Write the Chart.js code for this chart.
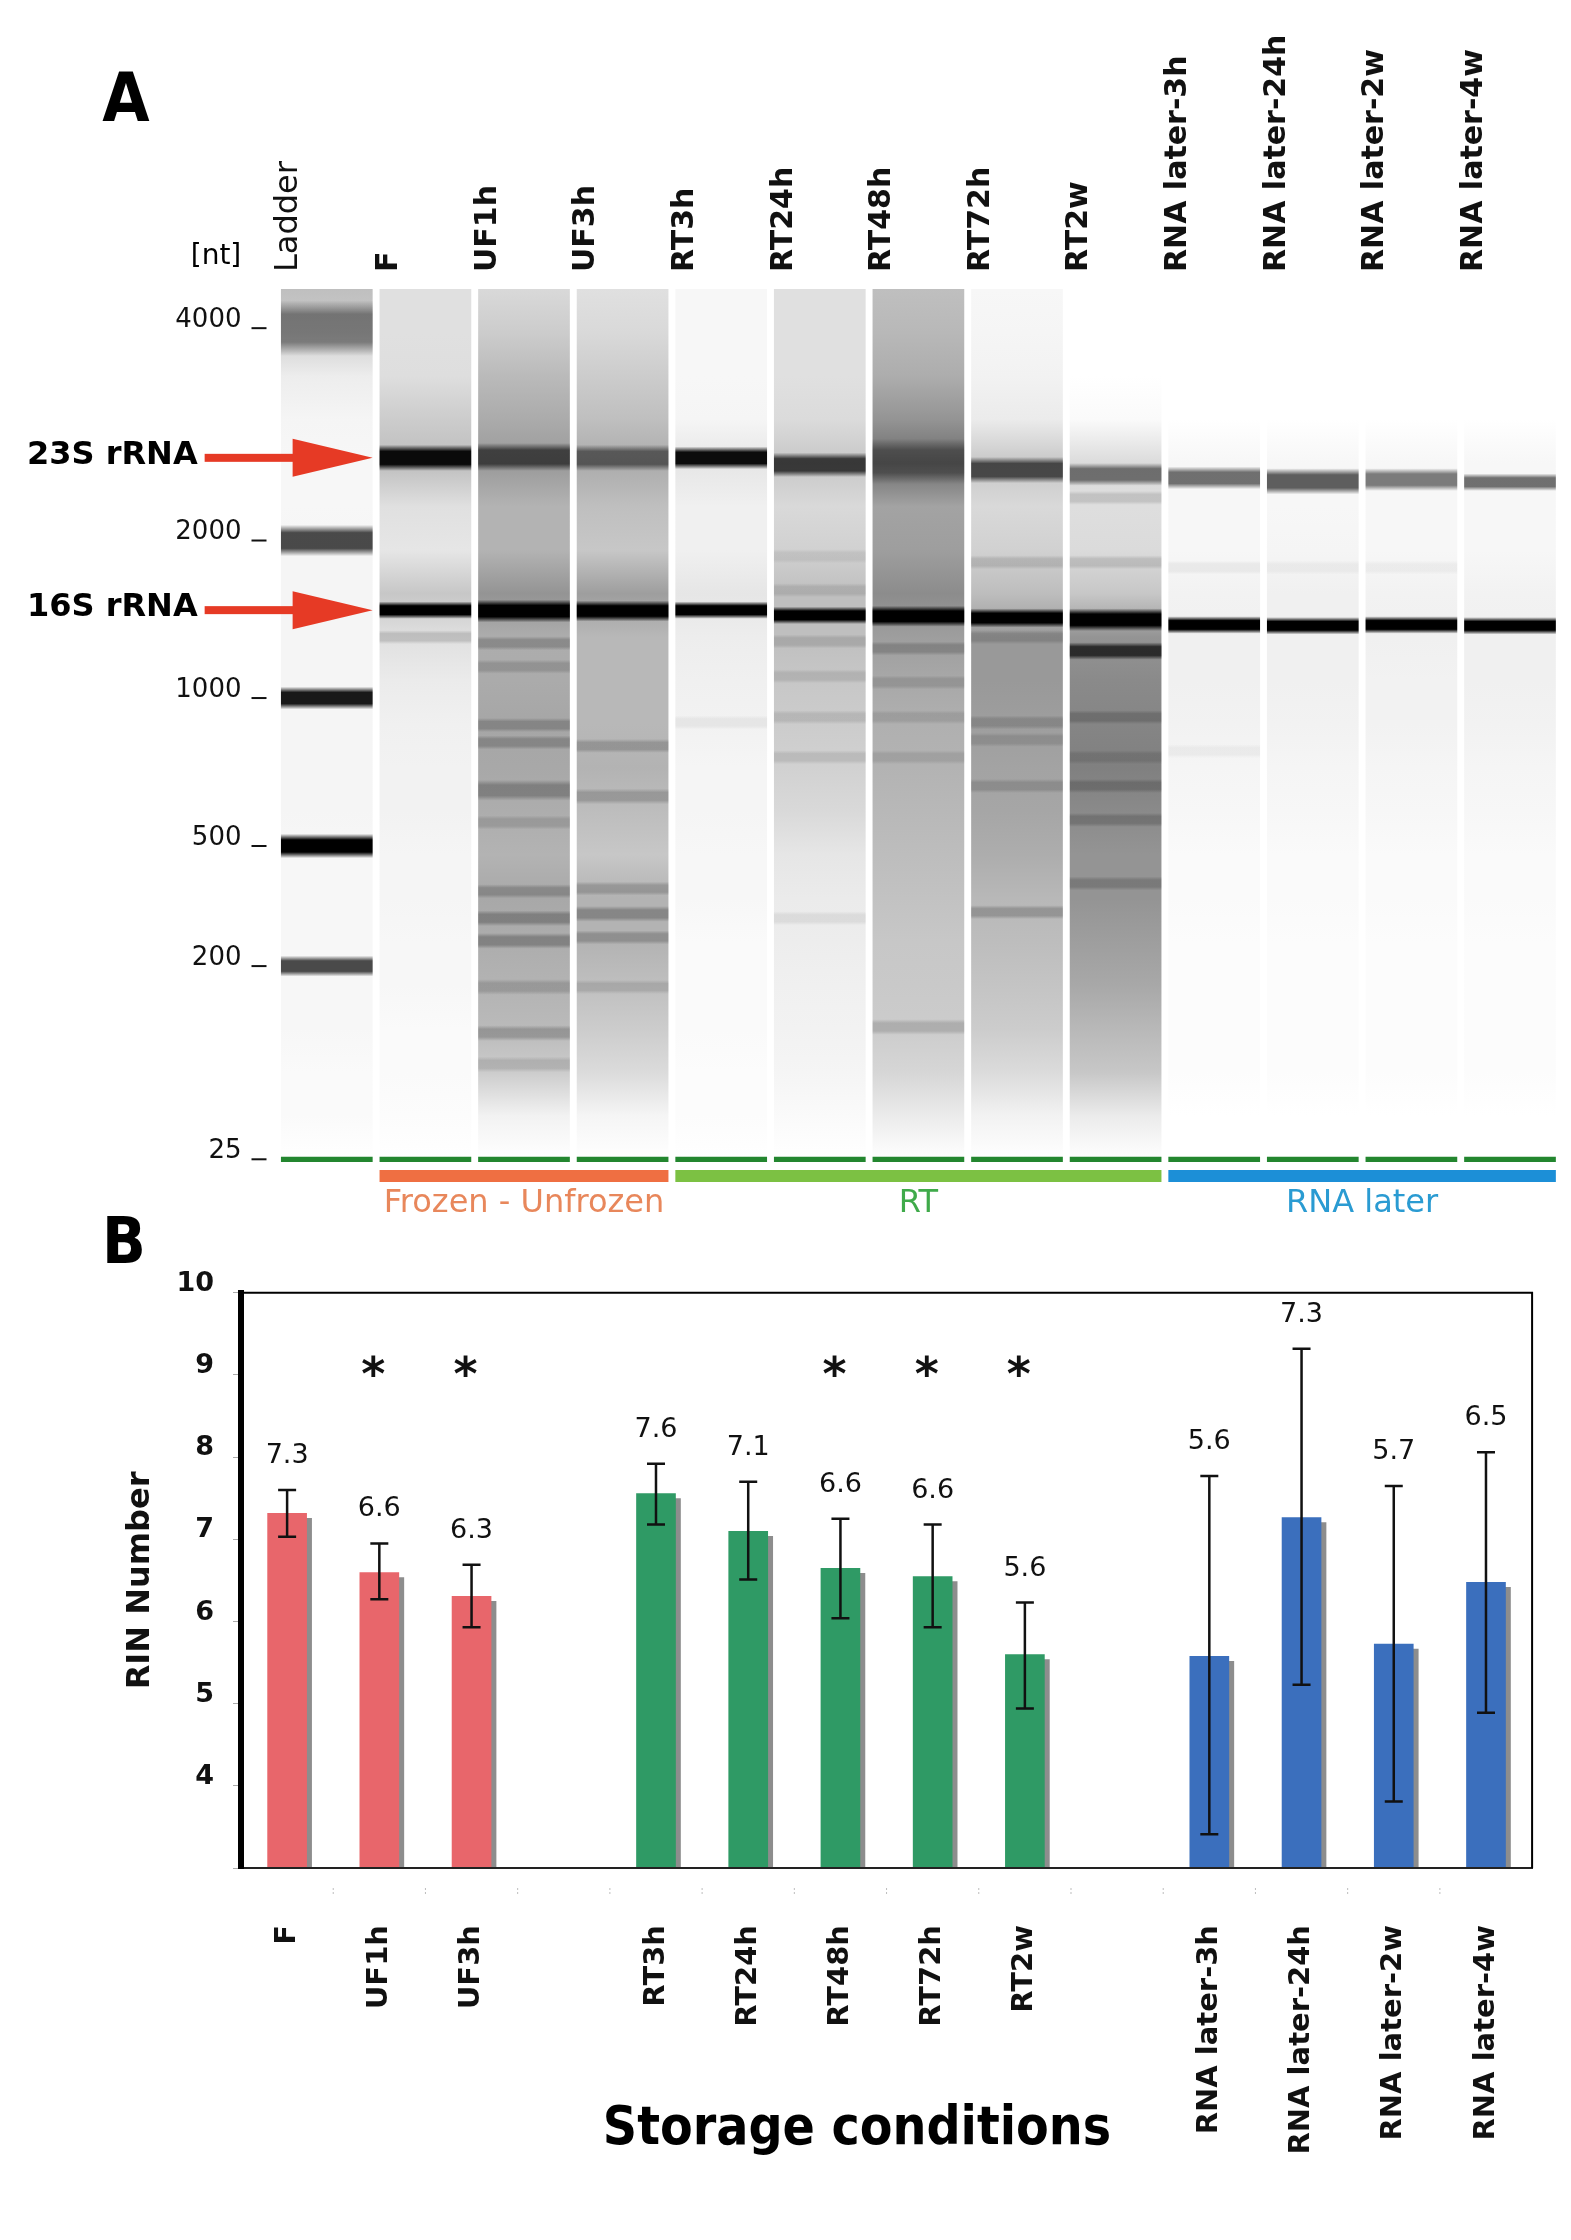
<!DOCTYPE html>
<html>
<head>
<meta charset="utf-8">
<title>RNA integrity under different storage conditions</title>
<script src="https://cdn.jsdelivr.net/npm/chart.js@4.4.1/dist/chart.umd.min.js"></script>
<style>
  html, body { margin: 0; padding: 0; background: #fff; }
  #wrap { width: 1571px; height: 2240px; position: relative; }
  canvas { display: block; position: absolute; left: 0; }
  #gelChart { top: 0; }
  #rinChart { top: 1180px; }
</style>
</head>
<body>
<div id="wrap">
  <canvas id="gelChart" width="1571" height="1230"></canvas>
  <canvas id="rinChart" width="1571" height="1060"></canvas>
</div>
<script>
// ---------- Panel A: virtual gel ----------
const laneLabels = ['Ladder', 'F', 'UF1h', 'UF3h', 'RT3h', 'RT24h', 'RT48h', 'RT72h', 'RT2w',
  'RNA later-3h', 'RNA later-24h', 'RNA later-2w', 'RNA later-4w'];

// ladder sizes and how far they ran (% of the run, 25 nt marker = 100)
const ladderNt = [4000, 2000, 1000, 500, 200, 25];
const ladderPos = [4.5, 28.9, 47.0, 64.0, 77.8, 100];
const markerPos = 100;

// background smear of each lane, darkness 0..1 read at these run positions
const smearStops = [0, 5, 10, 15, 20, 25, 30, 35, 40, 45, 50, 55, 60, 65, 70, 75, 80, 85, 90, 95, 100];
const smearLadder = [0.25, 0.2, 0.07, 0.04, 0.03, 0.03, 0.04, 0.04, 0.04, 0.04, 0.04, 0.04, 0.04, 0.03, 0.03, 0.03, 0.03, 0.03, 0.02, 0.02, 0];
const smearF      = [0.12, 0.12, 0.13, 0.2, 0.26, 0.12, 0.1, 0.22, 0.12, 0.08, 0.06, 0.05, 0.05, 0.04, 0.04, 0.03, 0.03, 0.02, 0.02, 0.01, 0];
const smearUF1h   = [0.15, 0.2, 0.27, 0.33, 0.4, 0.3, 0.3, 0.42, 0.32, 0.33, 0.35, 0.34, 0.32, 0.3, 0.34, 0.32, 0.3, 0.27, 0.2, 0.05, 0];
const smearUF3h   = [0.12, 0.15, 0.2, 0.25, 0.33, 0.25, 0.22, 0.38, 0.28, 0.28, 0.28, 0.3, 0.26, 0.22, 0.3, 0.3, 0.25, 0.2, 0.14, 0.04, 0];
const smearRT3h   = [0.03, 0.03, 0.03, 0.04, 0.1, 0.06, 0.06, 0.1, 0.07, 0.06, 0.05, 0.04, 0.04, 0.03, 0.03, 0.02, 0.02, 0.02, 0.01, 0.01, 0];
const smearRT24h  = [0.12, 0.12, 0.12, 0.14, 0.22, 0.15, 0.18, 0.25, 0.25, 0.22, 0.2, 0.18, 0.15, 0.1, 0.08, 0.07, 0.06, 0.05, 0.04, 0.02, 0];
const smearRT48h  = [0.25, 0.28, 0.32, 0.42, 0.58, 0.36, 0.38, 0.45, 0.38, 0.34, 0.31, 0.3, 0.28, 0.26, 0.24, 0.22, 0.21, 0.2, 0.16, 0.08, 0];
const smearRT72h  = [0.03, 0.04, 0.05, 0.08, 0.22, 0.15, 0.18, 0.26, 0.4, 0.4, 0.38, 0.36, 0.35, 0.32, 0.28, 0.26, 0.23, 0.2, 0.14, 0.05, 0];
const smearRT2w   = [0, 0, 0, 0.02, 0.14, 0.13, 0.14, 0.22, 0.42, 0.46, 0.48, 0.5, 0.46, 0.42, 0.42, 0.38, 0.34, 0.28, 0.22, 0.08, 0];
const smearRNA3h  = [0, 0, 0, 0, 0.03, 0.03, 0.03, 0.05, 0.06, 0.06, 0.05, 0.04, 0.03, 0.02, 0.02, 0.01, 0.01, 0.01, 0.01, 0, 0];
const smearRNA24h = [0, 0, 0, 0, 0.03, 0.03, 0.04, 0.06, 0.06, 0.06, 0.05, 0.04, 0.03, 0.02, 0.02, 0.01, 0.01, 0.01, 0.01, 0, 0];
const smearRNA2w  = [0, 0, 0, 0, 0.03, 0.03, 0.03, 0.05, 0.06, 0.05, 0.05, 0.04, 0.03, 0.02, 0.02, 0.01, 0.01, 0.01, 0.01, 0, 0];
const smearRNA4w  = [0, 0, 0, 0, 0.03, 0.03, 0.03, 0.05, 0.06, 0.06, 0.05, 0.04, 0.03, 0.02, 0.02, 0.01, 0.01, 0.01, 0.01, 0, 0];

// bands per lane: [run position, half width, darkness]
const bandsLadder = [[4.5, 3.2, 0.42], [28.9, 1.8, 0.7], [47.0, 1.3, 0.9], [64.0, 1.4, 1.0], [77.8, 1.2, 0.7]];
const bandsF      = [[19.4, 1.5, 0.95], [36.9, 1.0, 1.0], [40.0, 0.8, 0.15]];
const bandsUF1h   = [[19.3, 1.6, 0.6], [37.0, 1.3, 1.0], [40.7, 0.8, 0.2], [43.4, 0.8, 0.15], [50.1, 0.8, 0.2], [52.1, 0.8, 0.2],
  [57.6, 1.2, 0.25], [61.3, 0.8, 0.12], [69.2, 0.8, 0.2], [72.3, 0.9, 0.25], [74.9, 0.9, 0.25], [80.2, 0.9, 0.15], [85.5, 0.9, 0.2], [89.1, 0.9, 0.12]];
const bandsUF3h   = [[19.4, 1.5, 0.5], [37.0, 1.2, 1.0], [52.5, 0.8, 0.18], [58.3, 0.9, 0.18], [68.9, 0.8, 0.18], [71.8, 0.9, 0.25], [74.5, 0.8, 0.2], [80.2, 0.8, 0.12]];
const bandsRT3h   = [[19.4, 1.3, 0.95], [36.9, 1.0, 1.0], [49.8, 0.8, 0.05]];
const bandsRT24h  = [[20.2, 1.4, 0.72], [37.5, 1.0, 1.0], [30.7, 0.8, 0.07], [34.6, 0.8, 0.1], [40.5, 0.8, 0.12], [44.5, 0.8, 0.1], [49.2, 0.8, 0.1], [53.8, 0.8, 0.1], [72.3, 0.8, 0.07]];
const bandsRT48h  = [[19.8, 2.6, 0.35], [37.6, 1.2, 1.0], [41.3, 0.8, 0.18], [45.2, 0.8, 0.12], [49.2, 0.8, 0.1], [53.8, 0.8, 0.1], [84.8, 0.9, 0.15]];
const bandsRT72h  = [[20.8, 1.5, 0.65], [37.8, 1.1, 1.0], [31.4, 0.8, 0.12], [40.0, 0.8, 0.15], [49.8, 0.8, 0.15], [51.8, 0.8, 0.12], [57.1, 0.8, 0.15], [71.6, 0.8, 0.2]];
const bandsRT2w   = [[21.3, 1.3, 0.5], [24.0, 0.8, 0.12], [31.4, 0.8, 0.12], [38.0, 1.3, 1.0], [41.6, 1.0, 0.7], [49.2, 0.8, 0.18],
  [53.8, 0.8, 0.12], [57.1, 0.8, 0.18], [61.0, 0.8, 0.18], [68.3, 0.8, 0.18]];
const bandsRNA3h  = [[21.7, 1.3, 0.55], [32.0, 0.8, 0.05], [38.6, 1.0, 1.0], [53.1, 0.8, 0.04]];
const bandsRNA24h = [[22.1, 1.5, 0.62], [38.7, 1.0, 1.0], [32.0, 0.8, 0.04]];
const bandsRNA2w  = [[21.9, 1.3, 0.5], [38.6, 1.0, 1.0], [32.0, 0.8, 0.04]];
const bandsRNA4w  = [[22.2, 1.0, 0.55], [38.7, 1.0, 1.0]];

const rrnaNames = ['23S rRNA', '16S rRNA'];
const rrnaPos = [19.4, 36.9];

const groupNames = ['Frozen - Unfrozen', 'RT', 'RNA later'];
const groupFirstLane = [1, 4, 9];
const groupLastLane = [3, 8, 12];

// ---------- Panel B: RIN values ----------
const conditions = ['F', 'UF1h', 'UF3h', '', 'RT3h', 'RT24h', 'RT48h', 'RT72h', 'RT2w', '',
  'RNA later-3h', 'RNA later-24h', 'RNA later-2w', 'RNA later-4w'];
const conditionGroup = [0, 0, 0, null, 1, 1, 1, 1, 1, null, 2, 2, 2, 2];
const rinMean = [7.32, 6.6, 6.31, null, 7.56, 7.1, 6.65, 6.55, 5.6, null, 5.58, 7.27, 5.73, 6.48];
const rinLabel = ['7.3', '6.6', '6.3', null, '7.6', '7.1', '6.6', '6.6', '5.6', null, '5.6', '7.3', '5.7', '6.5'];
const rinLow = [7.03, 6.27, 5.93, null, 7.18, 6.51, 6.04, 5.93, 4.94, null, 3.41, 5.23, 3.81, 4.89];
const rinHigh = [7.6, 6.95, 6.69, null, 7.92, 7.7, 7.25, 7.18, 6.23, null, 7.77, 9.32, 7.65, 8.06];
const significant = [false, true, true, false, false, false, true, true, true, false, false, false, false, false];

// ---------- styles ----------
const FONT = "'DejaVu Sans', Verdana, sans-serif";
const NARROW = "'Liberation Sans Narrow', 'DejaVu Sans Condensed', 'DejaVu Sans', sans-serif";
const LANE_FRACTION = 0.93;
const groupBarColors = ['#ef6f42', '#7cc143', '#1c8fd7'];
const groupTextColors = ['#e8875b', '#3faa4a', '#2a9bd2'];
const barColors = ['#e8666b', '#2f9a65', '#3b6fbd'];
const markerColor = '#23862f';
const starLevel = 9.15;

Chart.defaults.font.family = FONT;
Chart.defaults.color = '#111';

const laneSmears = [smearLadder, smearF, smearUF1h, smearUF3h, smearRT3h, smearRT24h, smearRT48h, smearRT72h, smearRT2w,
  smearRNA3h, smearRNA24h, smearRNA2w, smearRNA4w];
const laneBands = [bandsLadder, bandsF, bandsUF1h, bandsUF3h, bandsRT3h, bandsRT24h, bandsRT48h, bandsRT72h, bandsRT2w,
  bandsRNA3h, bandsRNA24h, bandsRNA2w, bandsRNA4w];

function gray(a) {
  const g = Math.round(255 * (1 - a));
  return 'rgb(' + g + ',' + g + ',' + g + ')';
}

// smear of one lane as a vertical gradient placed through the y scale
function smearFill(context) {
  const chart = context.chart;
  const y = chart.scales.y;
  if (!chart.chartArea || !y) return '#eee';
  const profile = laneSmears[context.dataIndex];
  const first = smearStops[0], last = smearStops[smearStops.length - 1];
  const g = chart.ctx.createLinearGradient(0, y.getPixelForValue(first), 0, y.getPixelForValue(last));
  smearStops.forEach((s, i) => g.addColorStop((s - first) / (last - first), gray(profile[i])));
  return g;
}

function bandFill(k) {
  return function (context) {
    const chart = context.chart;
    const y = chart.scales.y;
    const band = laneBands[context.dataIndex][k];
    if (!band || !chart.chartArea || !y) return 'rgba(0,0,0,0)';
    const top = y.getPixelForValue(band[0] - band[1]);
    const bot = y.getPixelForValue(band[0] + band[1]);
    const g = chart.ctx.createLinearGradient(0, top, 0, bot);
    const c = 'rgba(0,0,0,' + band[2] + ')';
    g.addColorStop(0, 'rgba(0,0,0,0)');
    g.addColorStop(0.25, c);
    g.addColorStop(0.75, c);
    g.addColorStop(1, 'rgba(0,0,0,0)');
    return g;
  };
}

const gelDatasets = [{
  label: 'smear',
  data: laneLabels.map(() => [smearStops[0], smearStops[smearStops.length - 1]]),
  backgroundColor: smearFill,
  order: 3
}];
const maxBands = Math.max(...laneBands.map(b => b.length));
for (let k = 0; k < maxBands; k++) {
  gelDatasets.push({
    label: 'band ' + (k + 1),
    data: laneBands.map(b => b[k] ? [b[k][0] - b[k][1], b[k][0] + b[k][1]] : null),
    backgroundColor: bandFill(k),
    order: 2
  });
}
gelDatasets.push({
  label: 'marker',
  data: laneLabels.map(() => [markerPos - 0.3, markerPos + 0.3]),
  backgroundColor: markerColor,
  order: 1
});

const gelDecor = {
  id: 'gelDecor',
  afterDraw(chart) {
    const { ctx, chartArea, scales: { x, y } } = chart;
    const pitch = (chartArea.right - chartArea.left) / laneLabels.length;
    const laneW = pitch * LANE_FRACTION;
    ctx.save();
    ctx.fillStyle = '#000';
    ctx.textAlign = 'center';
    ctx.textBaseline = 'middle';
    ctx.font = 'bold 68px ' + NARROW;
    ctx.fillText('A', 126, 103);
    ctx.font = '28px ' + FONT;
    ctx.fillText('[nt]', 216, 257);

    // the little tick dashes after the ladder sizes
    ctx.strokeStyle = '#111';
    ctx.lineWidth = 2;
    ladderPos.forEach(p => {
      const py = y.getPixelForValue(p);
      ctx.beginPath();
      ctx.moveTo(chartArea.left - 26, py);
      ctx.lineTo(chartArea.left - 11, py);
      ctx.stroke();
    });

    // rRNA arrows ending on the ladder lane
    const tipX = x.getPixelForValue(0) + laneW / 2;
    rrnaNames.forEach((name, i) => {
      const py = y.getPixelForValue(rrnaPos[i]);
      ctx.fillStyle = '#e63a25';
      ctx.fillRect(tipX - 168, py - 4, 90, 8);
      ctx.beginPath();
      ctx.moveTo(tipX - 80, py - 19);
      ctx.lineTo(tipX, py);
      ctx.lineTo(tipX - 80, py + 19);
      ctx.closePath();
      ctx.fill();
      ctx.fillStyle = '#000';
      ctx.font = 'bold 32px ' + FONT;
      ctx.textAlign = 'right';
      ctx.textBaseline = 'alphabetic';
      ctx.fillText(name, tipX - 175, py + 6);
    });

    // storage groups under the lanes
    groupNames.forEach((name, g) => {
      const x0 = x.getPixelForValue(groupFirstLane[g]) - laneW / 2;
      const x1 = x.getPixelForValue(groupLastLane[g]) + laneW / 2;
      ctx.fillStyle = groupBarColors[g];
      ctx.fillRect(x0, chartArea.bottom + 2, x1 - x0, 12);
      ctx.fillStyle = groupTextColors[g];
      ctx.font = '32px ' + FONT;
      ctx.textAlign = 'center';
      ctx.textBaseline = 'middle';
      ctx.fillText(name, (x0 + x1) / 2, chartArea.bottom + 36);
    });
    ctx.restore();
  }
};

new Chart(document.getElementById('gelChart'), {
  type: 'bar',
  data: { labels: laneLabels, datasets: gelDatasets },
  options: {
    responsive: false,
    devicePixelRatio: 1,
    animation: false,
    events: [],
    layout: { padding: { left: 0, right: 11.7, top: 0, bottom: 62 } },
    datasets: { bar: { grouped: false, barPercentage: LANE_FRACTION, categoryPercentage: 1, borderWidth: 0 } },
    plugins: { legend: { display: false }, tooltip: { enabled: false } },
    scales: {
      x: {
        position: 'top',
        grid: { display: false, drawTicks: false },
        border: { display: false },
        ticks: {
          autoSkip: false,
          minRotation: 90,
          maxRotation: 90,
          padding: 17,
          color: '#111',
          font: c => c.index === 0 ? { family: FONT, size: 32, weight: 'normal' } : { family: FONT, size: 30, weight: 'bold' }
        },
        afterFit: s => { s.height = 289; }
      },
      y: {
        type: 'linear',
        reverse: true,
        min: 0,
        max: 101,
        grid: { display: false, drawTicks: false },
        border: { display: false },
        afterBuildTicks: s => { s.ticks = ladderPos.map(v => ({ value: v })); },
        ticks: {
          padding: 36,
          labelOffset: -8,
          color: '#111',
          font: { family: FONT, size: 26 },
          callback: (v, i) => ladderNt[i]
        },
        afterFit: s => { s.width = 277.5; }
      }
    }
  },
  plugins: [gelDecor]
});

// ---------- Panel B chart ----------
const rinDecor = {
  id: 'rinDecor',
  beforeDatasetDraw(chart) {
    const ctx = chart.ctx;
    ctx.save();
    ctx.shadowColor = '#8d8d8d';
    ctx.shadowOffsetX = 5;
    ctx.shadowOffsetY = 5;
    ctx.shadowBlur = 0;
  },
  afterDatasetDraw(chart) {
    chart.ctx.restore();
  },
  afterDatasetsDraw(chart) {
    const { ctx, scales: { x, y } } = chart;
    ctx.save();
    ctx.strokeStyle = '#111';
    ctx.lineWidth = 2.5;
    ctx.fillStyle = '#111';
    ctx.textAlign = 'center';
    rinMean.forEach((v, i) => {
      if (v === null) return;
      const px = x.getPixelForValue(i);
      const lo = y.getPixelForValue(rinLow[i]);
      const hi = y.getPixelForValue(rinHigh[i]);
      ctx.beginPath();
      ctx.moveTo(px, lo); ctx.lineTo(px, hi);
      ctx.moveTo(px - 9, lo); ctx.lineTo(px + 9, lo);
      ctx.moveTo(px - 9, hi); ctx.lineTo(px + 9, hi);
      ctx.stroke();
      ctx.font = '27px ' + FONT;
      ctx.textBaseline = 'middle';
      ctx.fillText(rinLabel[i], px, hi - 34);
    });
    ctx.font = 'bold 46px ' + FONT;
    ctx.textBaseline = 'alphabetic';
    significant.forEach((s, i) => {
      if (!s) return;
      ctx.fillText('*', x.getPixelForValue(i) - 6, y.getPixelForValue(starLevel) + 27);
    });
    ctx.restore();
  },
  afterDraw(chart) {
    const { ctx, chartArea, scales: { x } } = chart;
    ctx.save();
    ctx.strokeStyle = '#000';
    ctx.lineWidth = 2;
    ctx.beginPath();
    ctx.moveTo(chartArea.left, chartArea.top);
    ctx.lineTo(chartArea.right, chartArea.top);
    ctx.lineTo(chartArea.right, chartArea.bottom);
    ctx.stroke();
    // faint category separators under the axis
    ctx.strokeStyle = '#bdbdbd';
    ctx.lineWidth = 1;
    ctx.setLineDash([2, 2]);
    for (let i = 1; i < conditions.length; i++) {
      const bx = (x.getPixelForValue(i - 1) + x.getPixelForValue(i)) / 2;
      ctx.beginPath();
      ctx.moveTo(bx, chartArea.bottom + 20);
      ctx.lineTo(bx, chartArea.bottom + 28);
      ctx.stroke();
    }
    ctx.setLineDash([]);
    ctx.fillStyle = '#000';
    ctx.textAlign = 'center';
    ctx.textBaseline = 'middle';
    ctx.font = 'bold 64px ' + NARROW;
    ctx.fillText('B', 124, 66);
    ctx.font = 'bold 53px ' + NARROW;
    ctx.fillText('Storage conditions', 857, 950);
    ctx.restore();
  }
};

new Chart(document.getElementById('rinChart'), {
  type: 'bar',
  data: {
    labels: conditions,
    datasets: [{
      label: 'RIN',
      data: rinMean,
      backgroundColor: conditionGroup.map(g => g === null ? 'transparent' : barColors[g]),
      borderWidth: 0,
      barPercentage: 0.43,
      categoryPercentage: 1
    }]
  },
  options: {
    responsive: false,
    devicePixelRatio: 1,
    animation: false,
    events: [],
    layout: { padding: { left: 0, right: 34, top: 112.8, bottom: 0 } },
    plugins: { legend: { display: false }, tooltip: { enabled: false } },
    scales: {
      x: {
        grid: { display: false },
        border: { display: true, color: '#222', width: 2, z: 1 },
        ticks: {
          autoSkip: false,
          minRotation: 90,
          maxRotation: 90,
          padding: 49,
          color: '#111',
          font: { family: FONT, size: 29, weight: 'bold' }
        },
        afterFit: s => { s.height = 372; }
      },
      y: {
        min: 3,
        max: 10,
        grid: { drawOnChartArea: false, tickLength: 8, tickColor: '#aaa', tickWidth: 1 },
        border: { display: true, color: '#000', width: 6, z: 1 },
        ticks: {
          stepSize: 1,
          padding: 19,
          labelOffset: -9,
          color: '#111',
          font: { family: FONT, size: 27, weight: 'bold' },
          callback: v => v >= 4 ? v : ''
        },
        title: {
          display: true,
          text: 'RIN Number',
          color: '#111',
          font: { family: FONT, size: 32, weight: 'bold' },
          padding: { top: 121, bottom: 0 }
        },
        afterFit: s => { s.width = 241; }
      }
    }
  },
  plugins: [rinDecor]
});
</script>
</body>
</html>
